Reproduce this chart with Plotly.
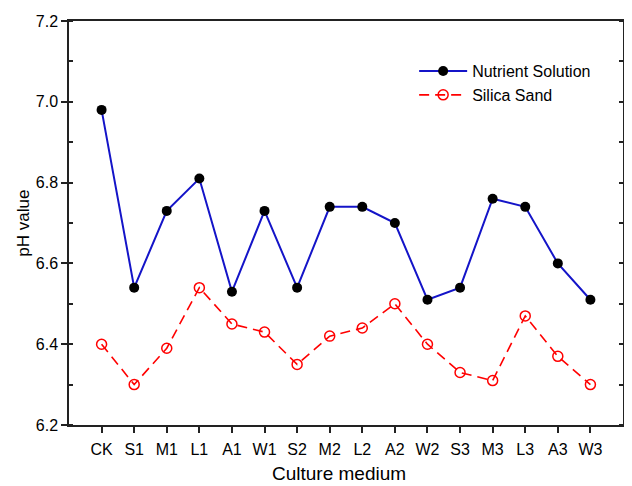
import plotly.graph_objects as go

categories = ["CK", "S1", "M1", "L1", "A1", "W1", "S2", "M2", "L2", "A2",
              "W2", "S3", "M3", "L3", "A3", "W3"]
nutrient_solution = [6.98, 6.54, 6.73, 6.81, 6.53, 6.73, 6.54, 6.74, 6.74, 6.70,
                     6.51, 6.54, 6.76, 6.74, 6.60, 6.51]
silica_sand = [6.40, 6.30, 6.39, 6.54, 6.45, 6.43, 6.35, 6.42, 6.44, 6.50,
               6.40, 6.33, 6.31, 6.47, 6.37, 6.30]
y_ticks = [6.2, 6.4, 6.6, 6.8, 7.0, 7.2]

FONT = "Arial, Liberation Sans, sans-serif"

fig = go.Figure()
fig.add_trace(go.Scatter(
    x=categories, y=nutrient_solution, name="Nutrient Solution",
    mode="lines+markers",
    line=dict(color="#1414C8", width=2),
    marker=dict(symbol="circle", size=10, color="black", line=dict(width=0)),
))
fig.add_trace(go.Scatter(
    x=categories, y=silica_sand, name="Silica Sand",
    mode="lines+markers",
    line=dict(color="#FF0000", width=1.6, dash="10px,6px"),
    marker=dict(symbol="circle-open", size=10, color="#FF0000", line=dict(width=1.5, color="#FF0000")),
))

# page body has an 8px default margin; figure is sized so the plot area
# lands at x 69..631, y 21..425 in the window
fig.update_layout(
    width=624, height=478,
    margin=dict(l=61, r=1, t=13, b=61),
    paper_bgcolor="white", plot_bgcolor="white",
    font=dict(family=FONT, size=16, color="black"),
    showlegend=True,
    legend=dict(x=0.623, y=0.918, xanchor="left", yanchor="top",
                bgcolor="rgba(0,0,0,0)", borderwidth=0, itemwidth=48,
                font=dict(family=FONT, size=16, color="black")),
)
fig.update_xaxes(
    type="category", categoryorder="array", categoryarray=categories,
    range=[-1, 16],
    showgrid=False, zeroline=False,
    showline=True, linecolor="#222", linewidth=1.5, mirror=True,
    ticks="outside", ticklen=6, tickwidth=1.5, tickcolor="#222",
    ticklabelstandoff=3,
    tickfont=dict(family=FONT, size=16, color="black"),
)
fig.update_yaxes(
    range=[6.2, 7.2], tickvals=y_ticks, tickformat=".1f",
    showgrid=False, zeroline=False,
    showline=True, linecolor="#222", linewidth=1.5, mirror="allticks",
    ticks="outside", ticklen=6, tickwidth=1.5, tickcolor="#222",
    tickfont=dict(family=FONT, size=16, color="black"),
    minor=dict(dtick=0.1, ticks="inside", ticklen=4, tickwidth=1.5, tickcolor="#222", showgrid=False),
)
fig.add_annotation(text="Culture medium", xref="paper", yref="paper",
                   x=(343 - 69) / 562, y=(425 - 473) / 404,
                   xanchor="center", yanchor="middle", showarrow=False,
                   font=dict(family=FONT, size=19, color="black"))
fig.add_annotation(text="pH value", xref="paper", yref="paper",
                   x=(22 - 69) / 562, y=0.5, textangle=-90,
                   xanchor="center", yanchor="middle", showarrow=False,
                   font=dict(family=FONT, size=17, color="black"))

fig.write_html("out.html")
